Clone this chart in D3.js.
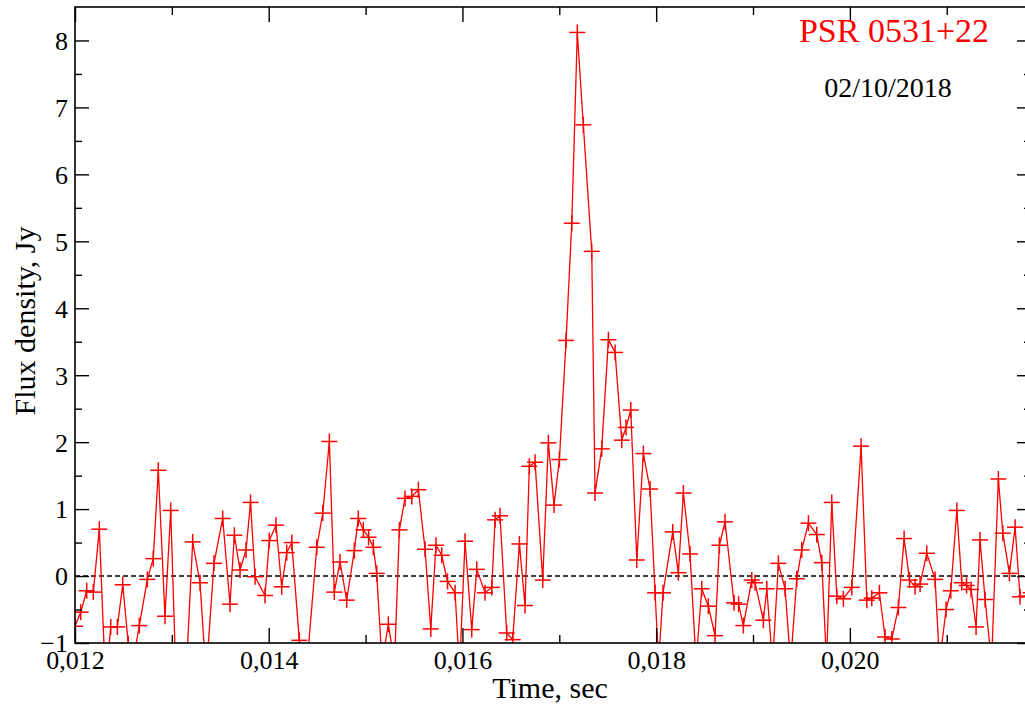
<!DOCTYPE html>
<html>
<head>
<meta charset="utf-8">
<script src="https://cdn.jsdelivr.net/npm/d3@7/dist/d3.min.js"></script>
<style>
  html, body { margin: 0; padding: 0; background: #ffffff; }
  svg { display: block; }
  text { font-family: "Liberation Serif", "Times New Roman", serif; }
</style>
</head>
<body>
<svg id="chart" width="1025" height="707"></svg>
<script>
// ---- data ----
const timeSec = [
  0.012000,0.012059,0.012121,0.012189,0.012251,0.012315,0.012369,0.012437,0.012493,0.012550,
  0.012609,0.012664,0.012747,0.012808,0.012860,0.012929,0.012988,0.013053,0.013136,0.013215,
  0.013291,0.013353,0.013435,0.013525,0.013600,0.013645,0.013704,0.013766,0.013812,0.013859,
  0.013962,0.014006,0.014075,0.014134,0.014186,0.014238,0.014316,0.014385,0.014496,0.014558,
  0.014626,0.014677,0.014736,0.014805,0.014884,0.014925,0.014977,0.015031,0.015080,0.015115,
  0.015170,0.015235,0.015299,0.015349,0.015407,0.015477,0.015545,0.015614,0.015673,0.015727,
  0.015786,0.015846,0.015924,0.015970,0.016027,0.016096,0.016148,0.016233,0.016303,0.016337,
  0.016388,0.016457,0.016519,0.016588,0.016646,0.016691,0.016750,0.016829,0.016887,0.016946,
  0.017001,0.017070,0.017129,0.017186,0.017248,0.017335,0.017369,0.017438,0.017507,0.017576,
  0.017645,0.017689,0.017738,0.017800,0.017868,0.017937,0.017989,0.018025,0.018071,0.018171,
  0.018229,0.018281,0.018350,0.018412,0.018471,0.018539,0.018608,0.018653,0.018711,0.018804,
  0.018851,0.018900,0.018987,0.019021,0.019107,0.019142,0.019202,0.019262,0.019331,0.019388,
  0.019452,0.019503,0.019572,0.019658,0.019710,0.019759,0.019813,0.019865,0.019933,0.020020,
  0.020116,0.020175,0.020226,0.020305,0.020363,0.020433,0.020501,0.020560,0.020616,0.020673,
  0.020725,0.020794,0.020880,0.020926,0.020993,0.021042,0.021104,0.021155,0.021205,0.021251,
  0.021303,0.021344,0.021396,0.021463,0.021533,0.021579,0.021647,0.021706,0.021757,0.021819,
  0.021870
];
const fluxJy = [
  -0.75,-0.54,-0.22,-0.24,0.70,-1.6,-0.76,-0.76,-0.13,-1.01,
  -1.2,-0.74,-0.05,0.26,1.58,-0.60,0.98,-2.0,-1.8,0.51,
  -0.10,-1.5,0.19,0.86,-0.42,0.61,0.09,0.39,1.10,-0.01,
  -0.29,0.53,0.76,-0.16,0.35,0.50,-0.96,-1.5,0.43,0.94,
  2.01,-0.24,0.21,-0.36,0.38,0.86,0.69,0.58,0.43,0.04,
  -1.3,-0.72,-1.3,0.69,1.16,1.19,1.29,0.40,-0.79,0.46,
  0.31,-0.08,-0.25,-1.4,0.52,-0.80,0.10,-0.25,-0.17,0.84,
  0.90,-0.85,-0.95,0.48,-0.44,1.64,1.70,-0.06,1.99,1.06,
  1.74,3.52,5.27,8.12,6.74,4.85,1.24,1.90,3.53,3.34,
  2.03,2.22,2.48,0.24,1.83,1.30,-0.25,-1.3,-0.25,0.66,
  0.05,1.24,0.33,-1.3,-0.19,-0.45,-0.89,0.46,0.81,-0.40,
  -0.42,-0.74,-0.06,-0.10,-0.66,-0.19,-1.3,0.19,-0.19,-1.3,
  -0.04,0.39,0.79,0.62,0.20,-1.3,1.10,-0.30,-0.34,-0.17,
  1.94,-0.36,-0.33,-0.25,-0.91,-0.94,-0.47,0.56,-0.06,-0.16,
  -0.12,0.34,-0.05,-1.3,-0.50,-0.22,0.98,-0.10,-0.14,-0.20,
  -0.76,0.54,-0.35,-1.3,1.45,0.64,0.04,0.73,-0.31,-0.30,
  -0.25
];
const xDomain = [0.012, 0.02187];
const yDomain = [-1, 8.5];
const xMajorTicks = [0.012, 0.014, 0.016, 0.018, 0.020];
const xMinorTicks = [0.013, 0.015, 0.017, 0.019, 0.021];
const yMajorTicks = [-1, 0, 1, 2, 3, 4, 5, 6, 7, 8];
const yMinorTicks = [-0.5, 0.5, 1.5, 2.5, 3.5, 4.5, 5.5, 6.5, 7.5];
const xTitle = "Time, sec";
const yTitle = "Flux density, Jy";
const sourceName = "PSR 0531+22";
const obsDate = "02/10/2018";

// ---- layout ----
const L = 75, R = 1031, T = 7, B = 643;
const svg = d3.select("#chart");
svg.append("rect").attr("width", 1025).attr("height", 707).attr("fill", "#fff");

const x = d3.scaleLinear().domain(xDomain).range([L, R]);
const y = d3.scaleLinear().domain(yDomain).range([B, T]);

const data = timeSec.map((t, i) => ({ t, v: fluxJy[i] }));

svg.append("defs").append("clipPath").attr("id", "plotclip")
  .append("rect").attr("x", L).attr("y", T).attr("width", R - L).attr("height", B - T);

// zero reference line
svg.append("line")
  .attr("x1", L).attr("x2", R).attr("y1", y(0)).attr("y2", y(0))
  .attr("stroke", "#000").attr("stroke-width", 1.4).attr("stroke-dasharray", "5,3");

const plot = svg.append("g").attr("clip-path", "url(#plotclip)");
plot.append("path").datum(data)
  .attr("fill", "none").attr("stroke", "#ff0000").attr("stroke-width", 1.3)
  .attr("d", d3.line().x(d => x(d.t)).y(d => y(d.v)));

const ms = 8;
const mk = plot.selectAll("g.mk").data(data).enter().append("g")
  .attr("transform", d => `translate(${x(d.t)},${y(d.v)})`);
mk.append("line").attr("x1", -ms).attr("x2", ms).attr("y1", 0).attr("y2", 0)
  .attr("stroke", "#ff0000").attr("stroke-width", 1.5);
mk.append("line").attr("y1", -ms).attr("y2", ms).attr("x1", 0).attr("x2", 0)
  .attr("stroke", "#ff0000").attr("stroke-width", 1.5);

// axes (ticks inward, mirrored on all sides)
const fmtX = d => d3.format(".3f")(d).replace(".", ",");
const tickStyle = g => {
  g.select(".domain").remove();
  g.selectAll(".tick line").attr("stroke", "#000").attr("stroke-width", 1.4);
  g.selectAll(".tick text").attr("fill", "#000")
    .style("font-family", '"Liberation Serif", "Times New Roman", serif');
};

// bottom
svg.append("g").attr("transform", `translate(0,${B})`)
  .call(d3.axisBottom(x).tickValues(xMajorTicks).tickSize(-15).tickPadding(0).tickFormat(fmtX))
  .call(tickStyle)
  .call(g => g.selectAll(".tick text").attr("font-size", 26).attr("y", 26).attr("dy", 0));
svg.append("g").attr("transform", `translate(0,${B})`)
  .call(d3.axisBottom(x).tickValues(xMinorTicks).tickSize(-8).tickFormat(""))
  .call(tickStyle);
// top
svg.append("g").attr("transform", `translate(0,${T})`)
  .call(d3.axisTop(x).tickValues(xMajorTicks).tickSize(-15).tickFormat(""))
  .call(tickStyle);
svg.append("g").attr("transform", `translate(0,${T})`)
  .call(d3.axisTop(x).tickValues(xMinorTicks).tickSize(-8).tickFormat(""))
  .call(tickStyle);
// left
svg.append("g").attr("transform", `translate(${L},0)`)
  .call(d3.axisLeft(y).tickValues(yMajorTicks).tickSize(-14).tickPadding(0).tickFormat(d3.format("d")))
  .call(tickStyle)
  .call(g => g.selectAll(".tick text").attr("font-size", 26).attr("x", -7).attr("dy", "0.34em"));
svg.append("g").attr("transform", `translate(${L},0)`)
  .call(d3.axisLeft(y).tickValues(yMinorTicks).tickSize(-7).tickFormat(""))
  .call(tickStyle);
// right
svg.append("g").attr("transform", `translate(${R},0)`)
  .call(d3.axisRight(y).tickValues(yMajorTicks).tickSize(-14).tickFormat(""))
  .call(tickStyle);
svg.append("g").attr("transform", `translate(${R},0)`)
  .call(d3.axisRight(y).tickValues(yMinorTicks).tickSize(-7).tickFormat(""))
  .call(tickStyle);

// frame
svg.append("rect").attr("x", L).attr("y", T).attr("width", R - L).attr("height", B - T)
  .attr("fill", "none").attr("stroke", "#000").attr("stroke-width", 1.6);

// titles
svg.append("text").attr("x", (L + R) / 2 - 3).attr("y", 698)
  .attr("text-anchor", "middle").attr("font-size", 30).attr("fill", "#000").text(xTitle);
svg.append("text").attr("transform", `translate(35,${(T + B) / 2 - 4}) rotate(-90)`)
  .attr("text-anchor", "middle").attr("font-size", 30).attr("fill", "#000").text(yTitle);
svg.append("text").attr("x", 894).attr("y", 42)
  .attr("text-anchor", "middle").attr("font-size", 34).attr("fill", "#ff0000").text(sourceName);
svg.append("text").attr("x", 888).attr("y", 97)
  .attr("text-anchor", "middle").attr("font-size", 28).attr("fill", "#000").text(obsDate);
</script>
</body>
</html>
